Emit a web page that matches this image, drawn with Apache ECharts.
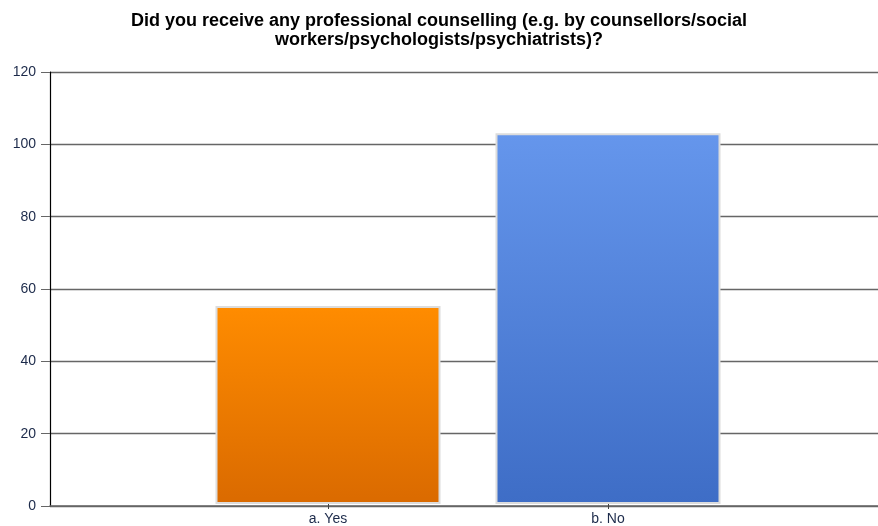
<!DOCTYPE html>
<html><head><meta charset="utf-8">
<script src="https://cdn.jsdelivr.net/npm/echarts@6/dist/echarts.min.js"></script>
<style>html,body{margin:0;padding:0;background:#fff}#c{width:878px;height:526px}</style>
</head><body><div id="c"></div>
<script>
const title = "Did you receive any professional counselling (e.g. by counsellors/social\nworkers/psychologists/psychiatrists)?";
const categories = ["a. Yes", "b. No"];
const values = [55, 103];
const yTicks = [0, 20, 40, 60, 80, 100, 120];

const chart = echarts.init(document.getElementById('c'));
const grad = (a, b) => new echarts.graphic.LinearGradient(0, 0, 0, 1, [{offset: 0, color: a}, {offset: 1, color: b}]);
const colors = [grad('#FF8C00', '#DA6A00'), grad('#6596EC', '#3E6DC6')];
const labelColor = '#1c2a4a';
chart.setOption({
  animation: false,
  title: {
    text: title, left: 'center', top: 7,
    textStyle: {fontFamily: 'Liberation Sans', fontWeight: 'bold', fontSize: 18, color: '#000', lineHeight: 19}
  },
  grid: [
    {left: 50, right: 0, top: 72, bottom: 20},
    {left: 188, right: 130, top: 72, bottom: 20}
  ],
  xAxis: [
    {type: 'value', gridIndex: 0, min: 0, max: 1, axisLine: {show: true, lineStyle: {color: '#666', width: 1.5}},
     axisTick: {show: false}, axisLabel: {show: false}, splitLine: {show: false}},
    {type: 'category', gridIndex: 1, data: categories, axisLine: {show: false},
     axisTick: {show: true, alignWithLabel: true, length: 5, lineStyle: {color: '#444'}},
     axisLabel: {color: labelColor, fontFamily: 'Liberation Sans', fontSize: 14, margin: 8}}
  ],
  yAxis: [
    {type: 'value', gridIndex: 0, min: 0, max: 120, interval: 20,
     axisLine: {show: true, lineStyle: {color: '#000', width: 1.2}},
     axisTick: {show: true, length: 9, lineStyle: {color: '#666'}},
     axisLabel: {color: labelColor, fontFamily: 'Liberation Sans', fontSize: 14, margin: 14,
       formatter: v => yTicks.includes(v) ? String(v) : ''},
     splitLine: {show: true, lineStyle: {color: '#666', width: 1.3}}},
    {type: 'value', gridIndex: 1, min: 0, max: 120, interval: 20, show: false}
  ],
  series: [{
    type: 'bar', xAxisIndex: 1, yAxisIndex: 1, barWidth: 225,
    data: values.map((v, i) => ({value: v, itemStyle: {color: colors[i]}})),
    itemStyle: {borderColor: '#dcdcdc', borderWidth: 2}
  }]
});
</script></body></html>
